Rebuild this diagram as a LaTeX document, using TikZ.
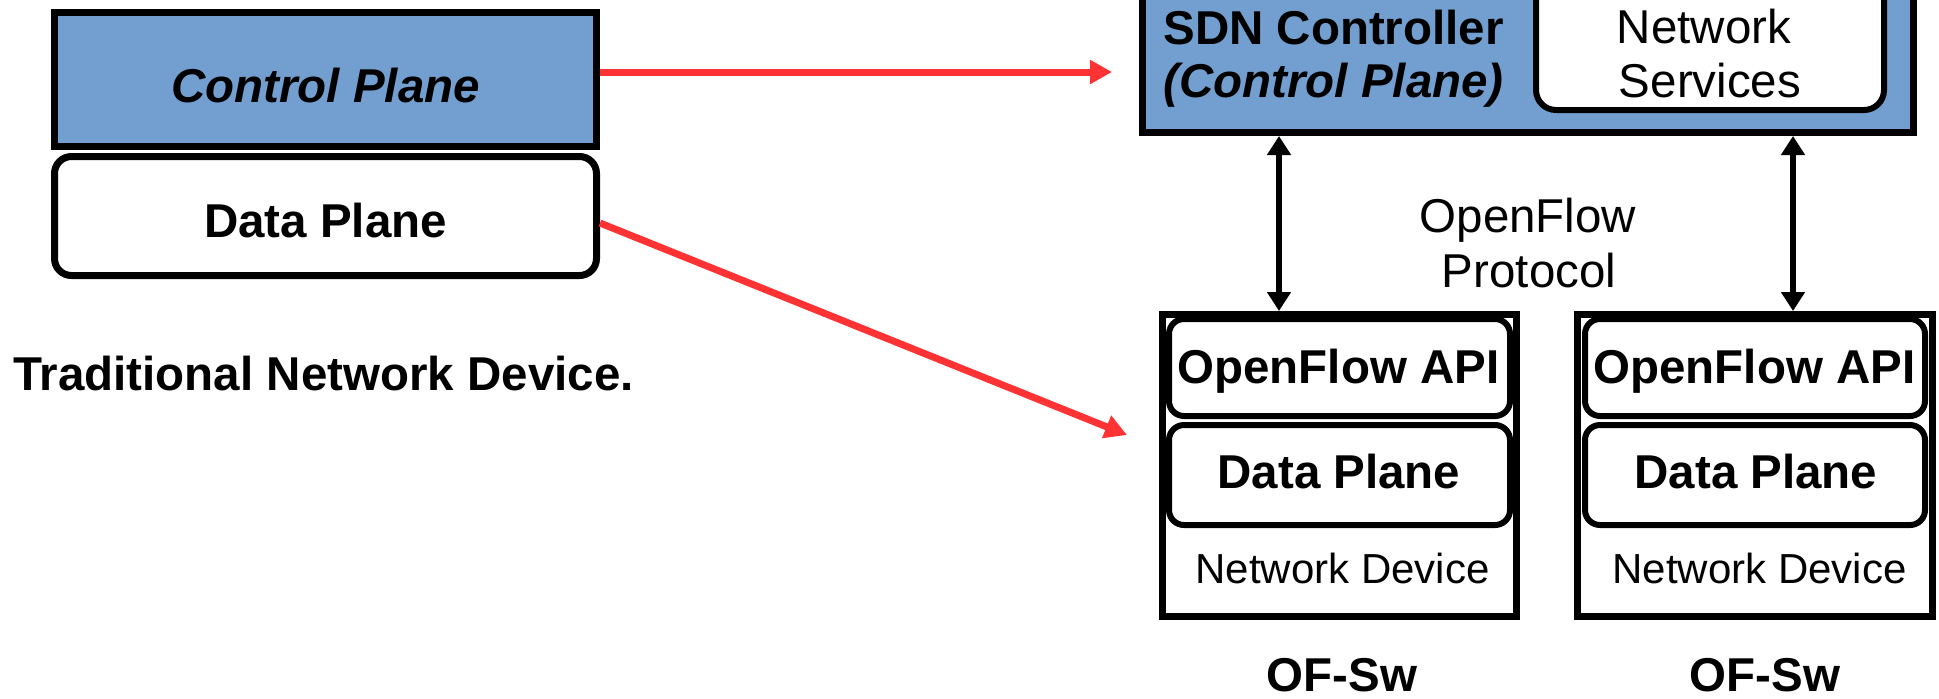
\documentclass[tikz,border=0pt]{standalone}
\usepackage{fontspec}
\setmainfont{Liberation Sans}
\usetikzlibrary{arrows.meta}
\definecolor{ctrlblue}{HTML}{729FCF}
\definecolor{linkred}{HTML}{FF3333}
\tikzset{
  ctrlbox/.style={draw=black, line width=3.5pt, fill=ctrlblue, inner sep=0pt},
  devbox/.style={draw=black, line width=3.5pt, fill=white, inner sep=0pt},
  roundbox/.style={draw=black, line width=3pt, fill=white, rounded corners=8.5pt, inner sep=0pt},
  lbl/.style={inner sep=0pt, anchor=base, font=\fontsize{23.75}{28}\selectfont},
  blbl/.style={lbl, font=\fontsize{23.75}{28}\selectfont\bfseries},
  bilbl/.style={lbl, font=\fontsize{23.75}{28}\selectfont\bfseries\itshape},
  smlbl/.style={lbl, font=\fontsize{21}{25}\selectfont},
  redlink/.style={draw=linkred, line width=3.5pt, -{Triangle[length=11pt,width=11.5pt]}},
  oflink/.style={draw=black, line width=3.25pt, {Triangle[length=9.5pt,width=11.5pt]}-{Triangle[length=9.5pt,width=11.5pt]}}
}
\begin{document}
\begin{tikzpicture}[x=0.5pt, y=-0.5pt]
\path[use as bounding box] (0,0) rectangle (1939,698);
\fill[white] (0,0) rectangle (1939,698);
\clip (0,0) rectangle (1939,698);

% traditional device
\node[ctrlbox, minimum width=271pt, minimum height=67pt] (cp) at (325.5,79.5) {};
\node[roundbox, line width=3.5pt, minimum width=271pt, minimum height=59.5pt] (dp) at (325.5,216) {};
\node[bilbl] (cptext) at (325.5,102) {Control Plane};
\node[blbl] (dptext) at (325.5,237) {Data Plane};
\node[blbl, anchor=base west] (tradtext) at (13,390) {Traditional Network Device.};

% SDN controller
\node[ctrlbox, minimum width=385.5pt, minimum height=76.25pt] (sdn) at (1528,56.25) {};
\node[roundbox, rounded corners=10pt, minimum width=174pt, minimum height=65pt] (ns) at (1710,45) {};
\node[blbl, anchor=base west] (sdntext) at (1163,44) {SDN Controller};
\node[bilbl, anchor=base west] (sdnsub) at (1163,97) {(Control Plane)};
\node[lbl] (nstext1) at (1704,43) {Network};
\node[lbl] (nstext2) at (1710,97) {Services};

% OpenFlow label
\node[lbl] (oftext1) at (1528,232) {OpenFlow};
\node[lbl] (oftext2) at (1529,287) {Protocol};

% switches
\node[devbox, minimum width=177pt, minimum height=151pt] (sw1) at (1339.5,465.5) {};
\node[roundbox, rounded corners=7.5pt, minimum width=170.5pt, minimum height=48.5pt] (api1) at (1339.5,367.5) {};
\node[roundbox, rounded corners=7.5pt, minimum width=170.5pt, minimum height=50pt] (dp1) at (1339.5,475) {};
\node[blbl] (api1text) at (1338.5,383) {OpenFlow API};
\node[blbl] (dp1text) at (1339,488) {Data Plane};
\node[smlbl] (nd1text) at (1342.5,583) {Network Device};
\node[blbl] (sw1text) at (1342,691) {OF-Sw};

\node[devbox, minimum width=177.5pt, minimum height=151pt] (sw2) at (1755,465.5) {};
\node[roundbox, rounded corners=7.5pt, minimum width=170pt, minimum height=48.5pt] (api2) at (1755,367.5) {};
\node[roundbox, rounded corners=7.5pt, minimum width=170pt, minimum height=50pt] (dp2) at (1755,475) {};
\node[blbl] (api2text) at (1754.5,383) {OpenFlow API};
\node[blbl] (dp2text) at (1756,488) {Data Plane};
\node[smlbl] (nd2text) at (1759.5,583) {Network Device};
\node[blbl] (sw2text) at (1765,691) {OF-Sw};

% connectors
\coordinate (tip1) at (1112,72);
\coordinate (tip2) at (1127,435);
\coordinate (col1) at (1279,0);
\coordinate (col2) at (1793,0);
\draw[redlink] ([yshift=3.75pt]cp.east) -- (tip1);
\draw[redlink] ([yshift=-3.5pt]dp.east) -- (tip2);
\draw[oflink] (col1 |- sdn.south) -- (col1 |- sw1.north);
\draw[oflink] (col2 |- sdn.south) -- (col2 |- sw2.north);
\end{tikzpicture}
\end{document}
